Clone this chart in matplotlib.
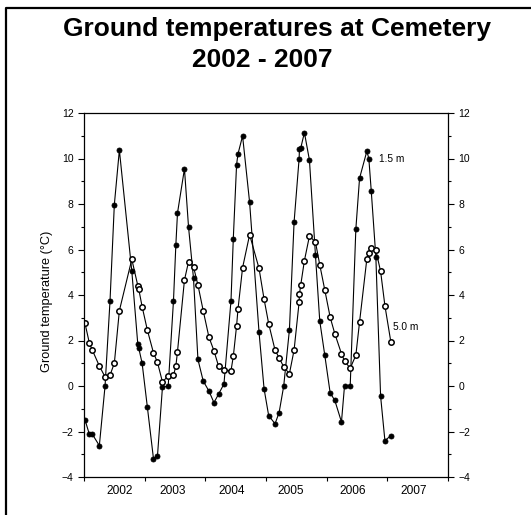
import matplotlib
matplotlib.use("Agg")
import matplotlib.pyplot as plt
from matplotlib.lines import Line2D
from matplotlib.ticker import FixedLocator, NullFormatter, FixedFormatter

plt.rcParams['font.family'] = ['Liberation Sans', 'DejaVu Sans']

# ---- data (decimal years) ----
dates = [2002.017, 2002.088, 2002.137, 2002.253, 2002.347, 2002.429, 2002.500, 2002.583,
         2002.788, 2002.887, 2002.903, 2002.958, 2003.045, 2003.145, 2003.211, 2003.293,
         2003.388, 2003.475, 2003.514, 2003.541, 2003.656, 2003.723, 2003.805, 2003.878,
         2003.965, 2004.059, 2004.142, 2004.218, 2004.307, 2004.423, 2004.461, 2004.515,
         2004.538, 2004.614, 2004.730, 2004.885, 2004.968, 2005.044, 2005.149, 2005.216,
         2005.292, 2005.386, 2005.463, 2005.546, 2005.551, 2005.572, 2005.633, 2005.716,
         2005.815, 2005.886, 2005.969, 2006.058, 2006.134, 2006.244, 2006.294, 2006.388,
         2006.481, 2006.542, 2006.662, 2006.695, 2006.735, 2006.811, 2006.889, 2006.960,
         2007.059]

temp_1_5m = [-1.49, -2.12, -2.12, -2.62, 0.0, 3.75, 7.97, 10.37, 5.05, 1.83, 1.66, 1.0,
             -0.94, -3.19, -3.08, -0.06, 0.0, 3.75, 6.2, 7.6, 9.55, 6.99, 4.73, 1.17, 0.22,
             -0.22, -0.73, -0.36, 0.09, 3.75, 6.48, 9.73, 10.2, 10.99, 8.07, 2.37, -0.12,
             -1.3, -1.66, -1.17, 0.0, 2.47, 7.21, 10.0, 10.4, 10.45, 11.14, 9.93, 5.76, 2.86,
             1.35, -0.31, -0.63, -1.58, 0.0, 0.0, 6.9, 9.13, 10.32, 10.0, 8.57, 5.66, -0.45,
             -2.4, -2.18]

temp_5_0m = [2.75, 1.89, 1.58, 0.88, 0.4, 0.48, 1.0, 3.31, 5.57, 4.41, 4.25, 3.49, 2.45,
             1.46, 1.04, 0.18, 0.44, 0.47, 0.87, 1.51, 4.66, 5.46, 5.24, 4.44, 3.31, 2.15,
             1.55, 0.87, 0.7, 0.67, 1.3, 2.64, 3.37, 5.2, 6.65, 5.17, 3.82, 2.74, 1.58, 1.24,
             0.84, 0.54, 1.58, 3.69, 4.03, 4.43, 5.51, 6.59, 6.33, 5.33, 4.22, 3.02, 2.3,
             1.42, 1.1, 0.78, 1.35, 2.81, 5.58, 5.83, 6.05, 5.96, 5.04, 3.53, 1.92]

year_labels = ['2002', '2003', '2004', '2005', '2006', '2007']
year_ticks = [2002, 2003, 2004, 2005, 2006, 2007, 2008]
y_ticks = [-4, -2, 0, 2, 4, 6, 8, 10, 12]
series_labels = ['1.5 m', '5.0 m']

title_line1 = 'Ground temperatures at Cemetery'
title_line2 = '2002 - 2007'
y_title = 'Ground temperature (\u00b0C)'

# ---- figure ----
W, H = 531, 515
fig = plt.figure(figsize=(W / 100, H / 100), dpi=100)
ax = fig.add_axes([84 / W, 1 - 477 / H, (448 - 84) / W, (477 - 113) / H])

ax.plot(dates, temp_1_5m, color='black', lw=0.8, marker='o', ms=3.6,
        mfc='black', mec='black', mew=0.6)
ax.plot(dates, temp_5_0m, color='black', lw=0.8, marker='o', ms=3.9,
        mfc='white', mec='black', mew=1.1)

ax.set_xlim(2002, 2008)
ax.set_ylim(-4, 12)

# x ticks at year boundaries, labels in between
ax.xaxis.set_major_locator(FixedLocator(year_ticks))
ax.xaxis.set_major_formatter(NullFormatter())
label_offsets = [0.595, 0.465, 0.428, 0.402, 0.434, 0.433]
label_pos = [int(l) + o for l, o in zip(year_labels, label_offsets)]
ax.xaxis.set_minor_locator(FixedLocator(label_pos))
ax.xaxis.set_minor_formatter(FixedFormatter(year_labels))
ax.tick_params(axis='x', which='major', direction='out', length=3, width=0.8)
ax.tick_params(axis='x', which='minor', length=0, pad=6, labelsize=8.6)

ax.yaxis.set_major_locator(FixedLocator(y_ticks))
ax.yaxis.set_minor_locator(FixedLocator([-3, -1, 1, 3, 5, 7, 9, 11]))
ax.tick_params(axis='y', which='major', direction='out', length=4, width=0.8,
               labelsize=7.5, pad=3.5, left=True, right=True,
               labelleft=True, labelright=True)
ax.tick_params(axis='y', which='minor', direction='out', length=2, width=0.8,
               left=True, right=True)

for s in ax.spines.values():
    s.set_linewidth(0.9)

fig.text(47 / W, 1 - 301 / H, y_title, rotation=90, ha='center', va='center',
         fontsize=9.2)

ax.text(2006.86, 10.0, series_labels[0], fontsize=7.3, ha='left', va='center')
ax.text(2007.10, 2.6, series_labels[1], fontsize=7.3, ha='left', va='center')

fig.text(277 / W, 1 - 29 / H, title_line1, ha='center', va='center',
         fontsize=19, fontweight='bold')
fig.text(262 / W, 1 - 60 / H, title_line2, ha='center', va='center',
         fontsize=19, fontweight='bold')

# outer frame (left and top edges)
fig.add_artist(Line2D([5.5 / W, 5.5 / W, 1.0], [0.0, 1 - 8 / H, 1 - 8 / H],
                      transform=fig.transFigure, color='black', lw=1.6))

fig.savefig('out.png', dpi=100)
